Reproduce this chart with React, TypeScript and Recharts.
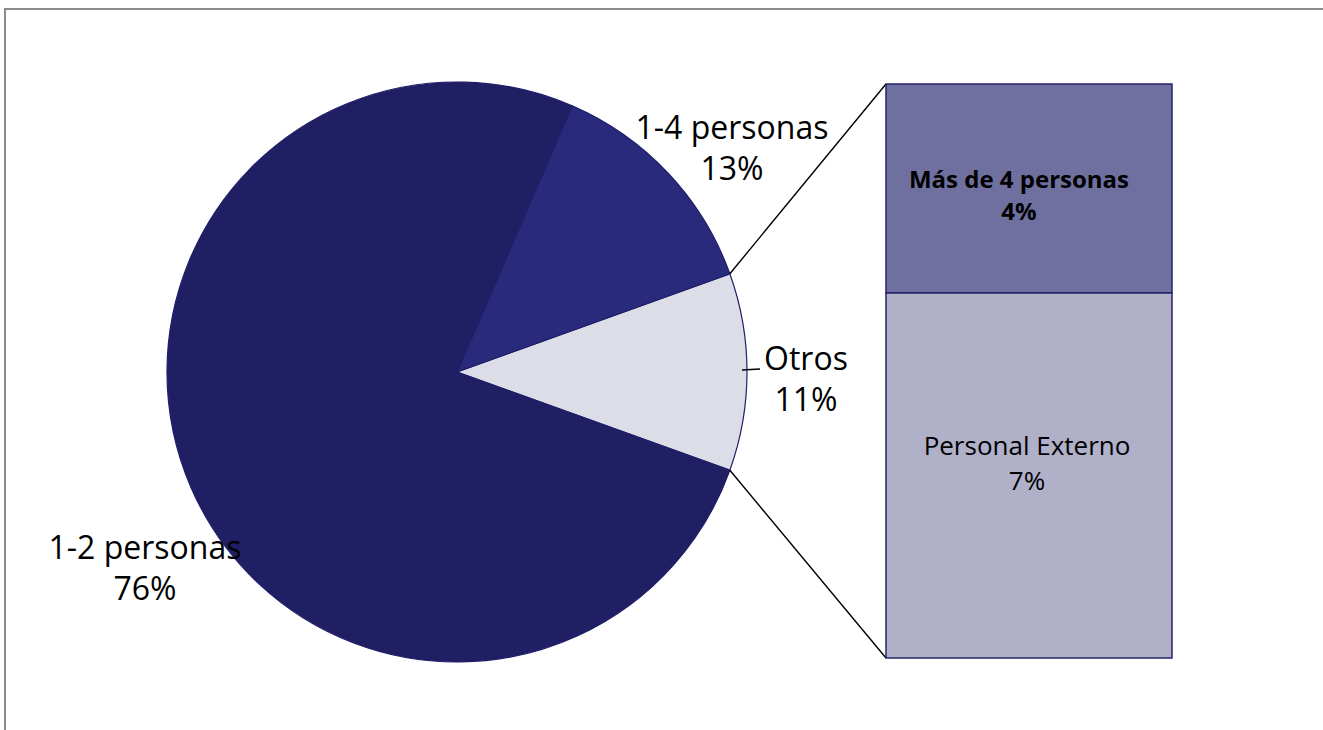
import { PieChart, Pie, Cell, BarChart, Bar, XAxis, YAxis, LabelList } from 'recharts'

// pie slices (percent)
const pieNames = ['Otros', '1-4 personas', '1-2 personas']
const pieValues = [11, 13, 76]
const pieColors = ['#dcdde7', '#2a2a7d', '#201f63']

// breakdown of "Otros"
const barNames = ['Personal Externo', 'Más de 4 personas']
const barValues = [7, 4]
const barColors = ['#b0b0c8', '#6f70a0']

const pieData = pieNames.map((name, i) => ({ name, value: pieValues[i] }))
const barData = [{ name: 'Otros', externo: barValues[0], mas4: barValues[1] }]

const W = 1313
const H = 720
const CX = 451
const CY = 362
const R = 290
const otrosHalf = ((pieValues[0] / pieValues.reduce((a, b) => a + b, 0)) * 360) / 2

// bar box (inside frame)
const BX = 880
const BY = 74
const BW = 286
const BH = 574

const FONT = '"Open Sans", "Noto Sans", sans-serif'

// label offsets from pie centre
const labelPos: Record<string, { dx: number; dy: number }> = {
  'Otros': { dx: 349, dy: 5 },
  '1-4 personas': { dx: 275, dy: -226 },
  '1-2 personas': { dx: -312, dy: 194 },
}

const renderPieLabel = (p: any) => {
  const pos = labelPos[p.name]
  if (!pos) return null
  const x = p.cx + pos.dx
  const y = p.cy + pos.dy
  const edge = p.cx + p.outerRadius
  return (
    <g>
      {p.name === 'Otros' && (
        <line x1={edge - 5} y1={p.cy - 2} x2={x - 46} y2={p.cy - 3} stroke="#000" strokeWidth={1.6} />
      )}
      <text x={x} y={y - 20} textAnchor="middle" dominantBaseline="central" fontSize={32} fill="#000" fontFamily={FONT}>
        {p.name}
      </text>
      <text x={x} y={y + 21} textAnchor="middle" dominantBaseline="central" fontSize={32} fill="#000" fontFamily={FONT}>
        {p.value}%
      </text>
    </g>
  )
}

const renderBarLabel = (name: string, dx: number, dy: number, gap: number, bold: boolean, size: number) => (p: any) => {
  const x = p.x + p.width / 2 + dx
  const y = p.y + p.height / 2 + dy
  const v = name === barNames[0] ? barValues[0] : barValues[1]
  return (
    <g>
      <text x={x} y={y - gap} textAnchor="middle" dominantBaseline="central" fontSize={size} fontWeight={bold ? 700 : 400} fill="#000" fontFamily={FONT}>
        {name}
      </text>
      <text x={x} y={y + gap} textAnchor="middle" dominantBaseline="central" fontSize={size} fontWeight={bold ? 700 : 400} fill="#000" fontFamily={FONT}>
        {v}%
      </text>
    </g>
  )
}

export default function App() {
  const rad = (otrosHalf * Math.PI) / 180
  const topPt = { x: CX + R * Math.cos(rad), y: CY - R * Math.sin(rad) }
  const botPt = { x: CX + R * Math.cos(rad), y: CY + R * Math.sin(rad) }
  return (
    <div style={{ position: 'absolute', left: 0, top: 0, width: 1323, height: 730, overflow: 'hidden' }}>
      <div
        style={{
          position: 'absolute',
          left: 4,
          top: 8,
          width: W + 20,
          height: H + 20,
          borderTop: '2px solid #8c8c8c',
          borderLeft: '2px solid #8c8c8c',
          background: '#fff',
        }}
      >
        <div style={{ position: 'absolute', left: 0, top: 0 }}>
          <PieChart width={W} height={H} margin={{ top: 0, right: 0, bottom: 0, left: 0 }}>
            <Pie
              data={pieData}
              dataKey="value"
              nameKey="name"
              cx={CX}
              cy={CY}
              outerRadius={R}
              startAngle={-otrosHalf}
              endAngle={360 - otrosHalf}
              stroke="#1f1f6b"
              strokeWidth={1.2}
              label={renderPieLabel}
              labelLine={false}
              isAnimationActive={false}
            >
              {pieData.map((d, i) => (
                <Cell key={d.name} fill={pieColors[i]} />
              ))}
            </Pie>
          </PieChart>
        </div>
        <svg width={W} height={H} style={{ position: 'absolute', left: 0, top: 0, pointerEvents: 'none' }}>
          <line x1={topPt.x} y1={topPt.y} x2={BX} y2={BY} stroke="#000" strokeWidth={1.4} />
          <line x1={botPt.x} y1={botPt.y} x2={BX} y2={BY + BH} stroke="#000" strokeWidth={1.4} />
        </svg>
        <div style={{ position: 'absolute', left: BX - 2, top: BY - 2 }}>
          <BarChart
            width={BW + 4}
            height={BH + 4}
            data={barData}
            margin={{ top: 2, right: 2, bottom: 2, left: 2 }}
            barCategoryGap={0}
          >
            <XAxis dataKey="name" hide />
            <YAxis hide domain={[0, barValues[0] + barValues[1]]} />
            <Bar dataKey="externo" stackId="s" fill={barColors[0]} stroke="#25256a" strokeWidth={1.5} isAnimationActive={false}>
              <LabelList content={renderBarLabel(barNames[0], -2, -13, 17.5, false, 26)} />
            </Bar>
            <Bar dataKey="mas4" stackId="s" fill={barColors[1]} stroke="#25256a" strokeWidth={1.5} isAnimationActive={false}>
              <LabelList content={renderBarLabel(barNames[1], -10, 6, 16, true, 24)} />
            </Bar>
          </BarChart>
        </div>
      </div>
    </div>
  )
}
